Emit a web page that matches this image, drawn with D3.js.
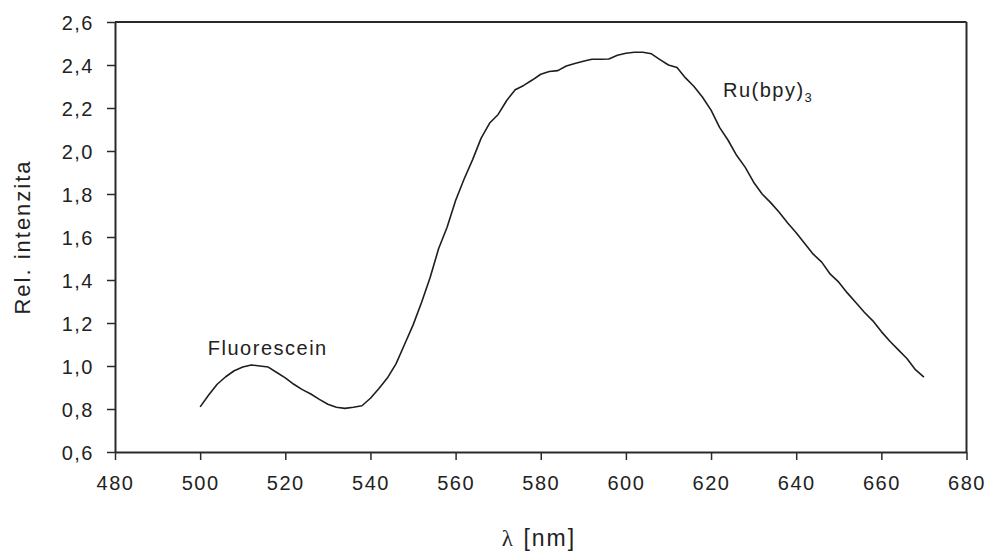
<!DOCTYPE html>
<html>
<head>
<meta charset="utf-8">
<script src="https://cdn.jsdelivr.net/npm/d3@7"></script>
<style>
  html, body { margin: 0; padding: 0; background: #fff; }
  svg { display: block; }
  text { font-family: "Liberation Sans", Arial, sans-serif; fill: #222; }
</style>
</head>
<body>
<svg id="chart" width="988" height="554"></svg>
<script>
const wavelengths = [500,502,504,506,508,510,512,514,516,518,520,522,524,526,528,530,532,534,536,538,540,542,544,546,548,550,552,554,556,558,560,562,564,566,568,570,572,574,576,578,580,582,584,586,588,590,592,594,596,598,600,602,604,606,608,610,612,614,616,618,620,622,624,626,628,630,632,634,636,638,640,642,644,646,648,650,652,654,656,658,660,662,664,666,668,670];
const intensity = [0.81,0.865,0.915,0.95,0.978,0.995,1.005,1.0,0.995,0.97,0.945,0.915,0.89,0.87,0.845,0.822,0.808,0.803,0.808,0.815,0.85,0.895,0.945,1.01,1.10,1.19,1.295,1.41,1.545,1.645,1.77,1.87,1.96,2.06,2.13,2.17,2.235,2.285,2.305,2.33,2.357,2.37,2.374,2.395,2.407,2.417,2.427,2.427,2.428,2.445,2.455,2.459,2.459,2.452,2.425,2.40,2.388,2.34,2.30,2.25,2.19,2.11,2.05,1.98,1.925,1.855,1.80,1.76,1.715,1.665,1.62,1.57,1.52,1.483,1.427,1.39,1.34,1.295,1.25,1.21,1.16,1.115,1.075,1.035,0.983,0.948];
const xTicks = [480,500,520,540,560,580,600,620,640,660,680];
const yTicks = [0.6,0.8,1.0,1.2,1.4,1.6,1.8,2.0,2.2,2.4,2.6];
const annotations = [
  {label: "Fluorescein", sub: "", x: 501.8, y: 1.05},
  {label: "Ru(bpy)", sub: "3", x: 622.8, y: 2.25}
];
const xLabel = ["λ", " [nm]"];
const yLabel = "Rel. intenzita";

const svg = d3.select("#chart");
const mLeft = 115, mRight = 966.5, mTop = 22, mBottom = 452;
const x = d3.scaleLinear().domain([480, 680]).range([mLeft, mRight]);
const y = d3.scaleLinear().domain([0.6, 2.6]).range([mBottom, mTop]);
const fmt = v => d3.format(".1f")(v).replace(".", ",");

const axisColor = "#2a2a2a";

const gx = svg.append("g").attr("transform", `translate(0,${mBottom})`)
  .call(d3.axisBottom(x).tickValues(xTicks).tickSize(8).tickSizeOuter(0).tickPadding(16).tickFormat(d3.format("d")));
const gy = svg.append("g").attr("transform", `translate(${mLeft},0)`)
  .call(d3.axisLeft(y).tickValues(yTicks).tickSize(8).tickSizeOuter(0).tickPadding(13).tickFormat(fmt));

[gx, gy].forEach(g => {
  g.select(".domain").attr("stroke", axisColor).attr("stroke-width", 2);
  g.selectAll(".tick line").attr("stroke", axisColor).attr("stroke-width", 1.5);
  g.selectAll(".tick text").attr("fill", "#222").style("font-size", "20px")
    .style("letter-spacing", "1.5px").style("font-family", '"Liberation Sans", Arial, sans-serif');
});
gy.selectAll(".tick text").attr("dy", "0.36em");

svg.append("line").attr("x1", mLeft).attr("x2", mRight).attr("y1", mTop).attr("y2", mTop)
  .attr("stroke", axisColor).attr("stroke-width", 2);
svg.append("line").attr("x1", mRight).attr("x2", mRight).attr("y1", mTop).attr("y2", mBottom)
  .attr("stroke", axisColor).attr("stroke-width", 2);

const line = d3.line().x((d, i) => x(wavelengths[i])).y(d => y(d));
svg.append("path").datum(intensity).attr("d", line)
  .attr("fill", "none").attr("stroke", "#1e1e1e").attr("stroke-width", 1.6).attr("stroke-linejoin", "round");

annotations.forEach(a => {
  const t = svg.append("text").attr("x", x(a.x)).attr("y", y(a.y))
    .style("font-size", "20px").style("letter-spacing", "1.5px").text(a.label);
  if (a.sub) t.append("tspan").attr("dy", "5").style("font-size", "13px").text(a.sub);
});

const xt = svg.append("text").attr("x", 539).attr("y", 546).attr("text-anchor", "middle")
  .style("font-size", "23px").style("letter-spacing", "2px");
xt.append("tspan").style("font-family", '"Liberation Serif", serif').text(xLabel[0]);
xt.append("tspan").text(xLabel[1]);

svg.append("text").attr("transform", "translate(30,237) rotate(-90)").attr("text-anchor", "middle")
  .style("font-size", "22px").style("letter-spacing", "2px").text(yLabel);
</script>
</body>
</html>
